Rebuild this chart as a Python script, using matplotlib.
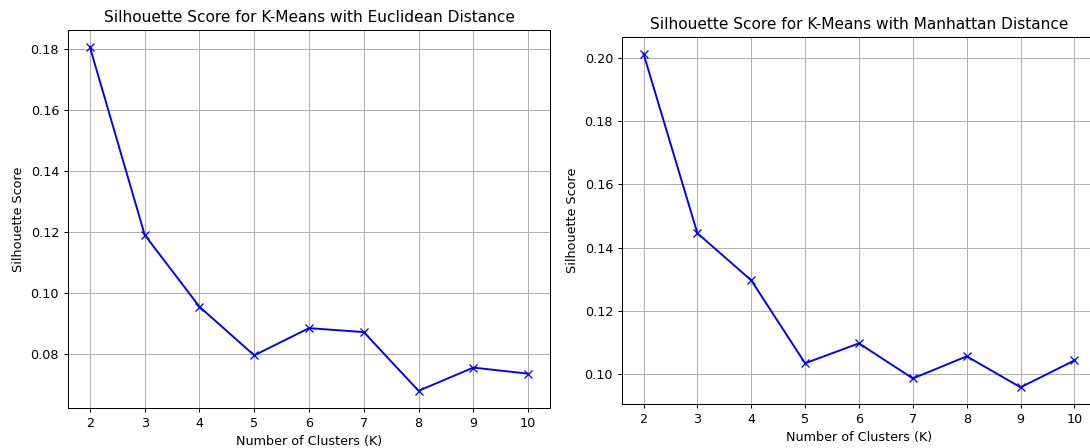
import matplotlib
matplotlib.use("Agg")
import matplotlib.pyplot as plt

k_values = [2, 3, 4, 5, 6, 7, 8, 9, 10]
euclidean_scores = [0.1805, 0.1191, 0.0956, 0.0797, 0.0886, 0.0873, 0.0681, 0.0757, 0.0737]
manhattan_scores = [0.2013, 0.1446, 0.1297, 0.1035, 0.1098, 0.0987, 0.1057, 0.0959, 0.1044]

dpi = 92
fig = plt.figure(figsize=(1090 / dpi, 448 / dpi), dpi=dpi)

# left panel
ax1 = fig.add_axes([0.0624, 0.0893, 0.4422, 0.8438])
ax1.plot(k_values, euclidean_scores, marker="x", color="b")
ax1.set_title("Silhouette Score for K-Means with Euclidean Distance")
ax1.set_xlabel("Number of Clusters (K)")
ax1.set_ylabel("Silhouette Score")
ax1.set_xticks(k_values)
ax1.grid(True)

# right panel, cut off at the right edge in the original picture
ax2 = fig.add_axes([0.5706, 0.0982, 0.4349, 0.8192])
ax2.plot(k_values, manhattan_scores, marker="x", color="b")
ax2.set_title("Silhouette Score for K-Means with Manhattan Distance")
ax2.set_xlabel("Number of Clusters (K)")
ax2.set_ylabel("Silhouette Score")
ax2.set_xticks(k_values)
ax2.grid(True)
ax2.spines["right"].set_visible(False)

fig.savefig("out.png", dpi=dpi)
